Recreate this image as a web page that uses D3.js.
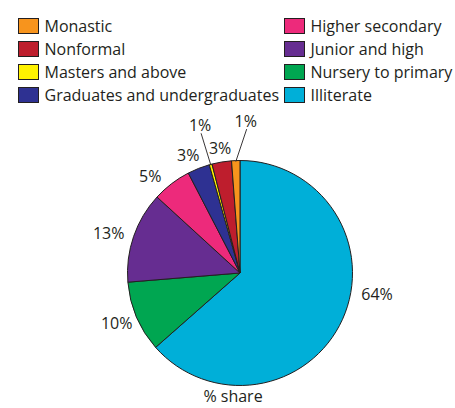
<!DOCTYPE html>
<html>
<head>
<meta charset="utf-8">
<script src="https://cdn.jsdelivr.net/npm/d3@7"></script>
<style>
  html, body { margin: 0; padding: 0; background: #fff; }
  svg { display: block; }
  text { font-family: "Open Sans", "Noto Sans", sans-serif; fill: #231f20; }
</style>
</head>
<body>
<svg id="chart" width="455" height="408"></svg>
<script>
// ---- data ----
const categories = ["Illiterate", "Nursery to primary", "Junior and high", "Higher secondary",
  "Graduates and undergraduates", "Masters and above", "Nonformal", "Monastic"];
const shares = [63.5, 10.2, 13.1, 5.6, 3.2, 0.4, 2.8, 1.2];
const shareLabels = ["64%", "10%", "13%", "5%", "3%", "1%", "3%", "1%"];
const colors = ["#00afd8", "#00a651", "#662d91", "#ed2a7b", "#2e3192", "#fff200", "#be1e2d", "#f7941d"];
const legendLeft = ["Monastic", "Nonformal", "Masters and above", "Graduates and undergraduates"];
const legendRight = ["Higher secondary", "Junior and high", "Nursery to primary", "Illiterate"];
const axisTitle = "% share";

// ---- layout (not data) ----
const cx = 240, cy = 273, R = 112.5;
// per-slice label angle shift (degrees), label radius, and whether a leader line is used
const labelShift = [-15.6, 1, -2.3, -5.6, -2.1, 0, 0.3, 4.3];
const labelRadius = [138.6, 133, 137, 131.6, 128.8, 153, 126.6, 152];
const useLeader = [false, false, false, false, false, true, false, true];

const svg = d3.select("#chart");
const color = d3.scaleOrdinal().domain(categories).range(colors);

// ---- legend ----
function drawLegend(items, x0) {
  const g = svg.append("g");
  const y = d3.scalePoint().domain(items).range([26, 95]);
  items.forEach(name => {
    g.append("rect")
      .attr("x", x0).attr("y", y(name) - 7.5)
      .attr("width", 20).attr("height", 15)
      .attr("fill", color(name))
      .attr("stroke", "#231f20").attr("stroke-width", 1);
    g.append("text")
      .attr("x", x0 + 26).attr("y", y(name))
      .attr("dy", "0.35em")
      .attr("font-size", 16)
      .text(name);
  });
}
drawLegend(legendLeft, 18.5);
drawLegend(legendRight, 284.5);

// ---- pie ----
const pie = d3.pie().sort(null).value(d => d).startAngle(0).endAngle(2 * Math.PI);
const arcs = pie(shares);
const arc = d3.arc().innerRadius(0).outerRadius(R);

const g = svg.append("g").attr("transform", `translate(${cx},${cy})`);
g.selectAll("path.slice")
  .data(arcs)
  .join("path")
  .attr("class", "slice")
  .attr("d", arc)
  .attr("fill", (d, i) => color(categories[i]))
  .attr("stroke", "#231f20")
  .attr("stroke-width", 1)
  .attr("stroke-linejoin", "round");

// ---- labels ----
const toRad = Math.PI / 180;
arcs.forEach((d, i) => {
  const mid = (d.startAngle + d.endAngle) / 2;
  const a = mid + labelShift[i] * toRad;
  const r = labelRadius[i];
  const lx = Math.sin(a) * r;
  const ly = -Math.cos(a) * r;
  g.append("text")
    .attr("x", lx).attr("y", ly)
    .attr("dy", "0.35em")
    .attr("text-anchor", "middle")
    .attr("font-size", 16)
    .text(shareLabels[i]);
  if (useLeader[i]) {
    g.append("line")
      .attr("x1", lx + 1).attr("y1", ly + 8)
      .attr("x2", Math.sin(mid) * (R - 1)).attr("y2", -Math.cos(mid) * (R - 1))
      .attr("stroke", "#231f20").attr("stroke-width", 0.9);
  }
});

// ---- title ----
svg.append("text")
  .attr("x", 233).attr("y", 402)
  .attr("text-anchor", "middle")
  .attr("font-size", 16)
  .text(axisTitle);
</script>
</body>
</html>
